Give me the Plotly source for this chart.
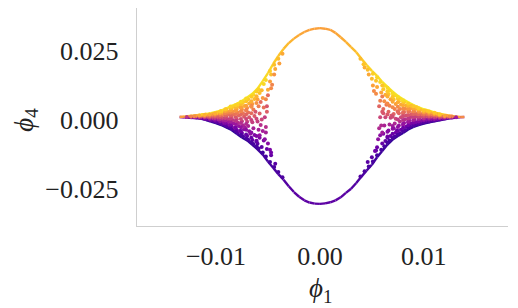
import plotly.graph_objects as go
from plotly.colors import sample_colorscale

# ---------------- data ----------------
X_TICKS = [-0.01, 0.0, 0.01]
X_TICK_TEXT = ["\u22120.01", "0.00", "0.01"]
Y_TICKS = [-0.025, 0.0, 0.025]
Y_TICK_TEXT = ["\u22120.025", "0.000", "0.025"]

# upper outer edge of the point cloud (phi_1, phi_4, colour value)
UPPER_X = [-0.0135, -0.0130, -0.0125, -0.0120, -0.0115, -0.0110, -0.0105, -0.0100,
           -0.0095, -0.0090, -0.0085, -0.0080, -0.0075, -0.0070, -0.0065, -0.0060,
           -0.0055, -0.0050, -0.0045, -0.0040, -0.0035, -0.0030, -0.0025, -0.0020,
           -0.0015, -0.0010, -0.0005, 0.0000, 0.0005, 0.0010, 0.0015, 0.0020,
           0.0025, 0.0030, 0.0035, 0.0040, 0.0045, 0.0050, 0.0055, 0.0060,
           0.0065, 0.0070, 0.0075, 0.0080, 0.0085, 0.0090, 0.0095, 0.0100,
           0.0105, 0.0110, 0.0115, 0.0120, 0.0125, 0.0130, 0.0135, 0.0139]
UPPER_Y = [0.0011, 0.0013, 0.0015, 0.0017, 0.0019, 0.0021, 0.0025, 0.0029,
           0.0034, 0.0042, 0.0051, 0.0059, 0.0069, 0.0082, 0.0095, 0.0114,
           0.0141, 0.0170, 0.0203, 0.0232, 0.0258, 0.0279, 0.0295, 0.0308,
           0.0319, 0.0327, 0.0331, 0.0333, 0.0331, 0.0327, 0.0316, 0.0300,
           0.0283, 0.0264, 0.0246, 0.0222, 0.0199, 0.0178, 0.0160, 0.0138,
           0.0120, 0.0103, 0.0087, 0.0075, 0.0064, 0.0054, 0.0046, 0.0039,
           0.0034, 0.0028, 0.0023, 0.0019, 0.0016, 0.0013, 0.0011, 0.0011]
UPPER_C = [0.70, 0.85, 0.90, 0.93, 0.95, 0.96, 0.97, 0.97,
           0.97, 0.97, 0.97, 0.97, 0.96, 0.96, 0.95, 0.94,
           0.93, 0.92, 0.90, 0.88, 0.86, 0.84, 0.82, 0.80,
           0.79, 0.78, 0.78, 0.78, 0.78, 0.78, 0.79, 0.80,
           0.82, 0.84, 0.86, 0.88, 0.90, 0.92, 0.93, 0.94,
           0.95, 0.96, 0.96, 0.97, 0.97, 0.97, 0.97, 0.97,
           0.96, 0.95, 0.93, 0.90, 0.87, 0.82, 0.75, 0.70]

# lower outer edge of the point cloud
LOWER_X = UPPER_X
LOWER_Y = [0.0011, 0.0009, 0.0008, 0.0007, 0.0005, 0.0001, -0.0006, -0.0011,
           -0.0018, -0.0027, -0.0036, -0.0050, -0.0063, -0.0074, -0.0090, -0.0106,
           -0.0125, -0.0150, -0.0173, -0.0196, -0.0216, -0.0240, -0.0261, -0.0278,
           -0.0291, -0.0299, -0.0303, -0.0304, -0.0302, -0.0298, -0.0291, -0.0280,
           -0.0264, -0.0249, -0.0228, -0.0205, -0.0183, -0.0162, -0.0135, -0.0112,
           -0.0089, -0.0071, -0.0058, -0.0047, -0.0034, -0.0025, -0.0018, -0.0013,
           -0.0008, -0.0005, -0.0001, 0.0003, 0.0006, 0.0008, 0.0010, 0.0011]
LOWER_C = [0.30, 0.20, 0.12, 0.08, 0.06, 0.05, 0.05, 0.05,
           0.05, 0.05, 0.05, 0.06, 0.06, 0.07, 0.08, 0.09,
           0.10, 0.11, 0.12, 0.13, 0.14, 0.15, 0.16, 0.17,
           0.17, 0.17, 0.17, 0.17, 0.17, 0.17, 0.17, 0.17,
           0.16, 0.15, 0.14, 0.13, 0.12, 0.11, 0.10, 0.09,
           0.08, 0.07, 0.06, 0.06, 0.05, 0.05, 0.05, 0.05,
           0.05, 0.05, 0.06, 0.08, 0.12, 0.20, 0.30, 0.45]

# interior points of the left wing
LEFT_X = [-0.0128,
          -0.0124, -0.0124,
          -0.0119, -0.0120, -0.0119,
          -0.0114, -0.0115, -0.0114, -0.0113,
          -0.0109, -0.0110, -0.0108, -0.0109, -0.0110,
          -0.0104, -0.0105, -0.0103, -0.0104, -0.0105, -0.0103,
          -0.0099, -0.0100, -0.0098, -0.0099, -0.0100, -0.0098, -0.0099,
          -0.0094, -0.0095, -0.0093, -0.0094, -0.0095, -0.0093, -0.0094, -0.0095,
          -0.0089, -0.0090, -0.0088, -0.0089, -0.0090, -0.0088, -0.0089, -0.0090,
          -0.0084, -0.0085, -0.0083, -0.0084, -0.0085, -0.0083, -0.0084, -0.0085, -0.0083,
          -0.0079, -0.0080, -0.0078, -0.0079, -0.0080, -0.0078, -0.0079, -0.0080, -0.0078, -0.0079,
          -0.0074, -0.0075, -0.0073, -0.0074, -0.0075, -0.0073, -0.0074, -0.0075, -0.0073, -0.0074,
          -0.0069, -0.0070, -0.0068, -0.0069, -0.0070, -0.0068, -0.0069, -0.0070, -0.0068, -0.0069,
          -0.0064, -0.0065, -0.0063, -0.0064, -0.0065, -0.0063, -0.0064, -0.0065, -0.0063, -0.0064,
          -0.0059, -0.0060, -0.0058, -0.0059, -0.0060, -0.0058, -0.0059, -0.0060, -0.0058, -0.0059,
          -0.0055, -0.0056, -0.0054, -0.0055, -0.0056, -0.0054, -0.0055, -0.0056, -0.0054,
          -0.0052, -0.0051, -0.0053, -0.0052, -0.0051, -0.0052, -0.0050, -0.0052,
          -0.0048, -0.0047, -0.0048, -0.0047, -0.0048, -0.0047, -0.0048,
          -0.0044, -0.0043, -0.0044, -0.0043, -0.0044,
          -0.0040, -0.0039, -0.0040,
          -0.0036, -0.0036,
          -0.0050, -0.0051, -0.0053, -0.0052, -0.0050, -0.0047, -0.0046, -0.0057, -0.0057,
          -0.0058, -0.0062, -0.0061, -0.0066, -0.0067, -0.0071, -0.0072, -0.0076, -0.0077,
          -0.0081, -0.0082, -0.0086, -0.0087, -0.0091, -0.0092, -0.0097, -0.0102]
LEFT_Y = [0.0011,
          0.0010, 0.0013,
          0.0009, 0.0012, 0.0015,
          0.0007, 0.0011, 0.0015, 0.0018,
          0.0003, 0.0008, 0.0012, 0.0016, 0.0020,
          -0.0003, 0.0002, 0.0007, 0.0012, 0.0017, 0.0022,
          -0.0008, -0.0002, 0.0004, 0.0010, 0.0016, 0.0021, 0.0026,
          -0.0015, -0.0008, 0.0000, 0.0008, 0.0015, 0.0022, 0.0029, 0.0033,
          -0.0024, -0.0015, -0.0006, 0.0004, 0.0013, 0.0021, 0.0030, 0.0038,
          -0.0033, -0.0022, -0.0012, 0.0000, 0.0011, 0.0020, 0.0031, 0.0040, 0.0048,
          -0.0047, -0.0036, -0.0022, -0.0010, 0.0003, 0.0016, 0.0027, 0.0040, 0.0050, 0.0057,
          -0.0059, -0.0047, -0.0033, -0.0019, -0.0004, 0.0012, 0.0025, 0.0038, 0.0051, 0.0064,
          -0.0071, -0.0058, -0.0041, -0.0022, -0.0006, 0.0010, 0.0027, 0.0044, 0.0060, 0.0075,
          -0.0087, -0.0072, -0.0054, -0.0030, -0.0008, 0.0015, 0.0038, 0.0058, 0.0076, 0.0092,
          -0.0103, -0.0086, -0.0064, -0.0035, -0.0005, 0.0024, 0.0050, 0.0075, 0.0098, 0.0112,
          -0.0118, -0.0098, -0.0074, -0.0040, 0.0002, 0.0045, 0.0080, 0.0108, 0.0131,
          -0.0132, -0.0105, -0.0070, -0.0025, 0.0030, 0.0075, 0.0110, 0.0145,
          -0.0152, -0.0128, -0.0108, 0.0115, 0.0140, 0.0165, 0.0178,
          -0.0170, -0.0158, 0.0165, 0.0185, 0.0200,
          -0.0188, 0.0205, 0.0222,
          -0.0207, 0.0240,
          0.0090, 0.0050, 0.0010, -0.0045, -0.0085, -0.0118, 0.0128, 0.0065, -0.0018,
          -0.0055, 0.0030, -0.0075, 0.0050, -0.0050, 0.0035, -0.0028, 0.0045, -0.0040,
          0.0034, -0.0028, 0.0044, -0.0018, 0.0025, -0.0011, 0.0013, 0.0018]
LEFT_C = [0.43,
          0.33, 0.70,
          0.25, 0.50, 0.78,
          0.25, 0.49, 0.72, 0.90,
          0.20, 0.40, 0.55, 0.72, 0.87,
          0.18, 0.30, 0.44, 0.57, 0.70, 0.84,
          0.16, 0.28, 0.41, 0.53, 0.66, 0.76, 0.87,
          0.16, 0.27, 0.39, 0.52, 0.63, 0.74, 0.85, 0.92,
          0.14, 0.23, 0.34, 0.46, 0.56, 0.65, 0.76, 0.86,
          0.14, 0.24, 0.34, 0.45, 0.56, 0.64, 0.74, 0.83, 0.90,
          0.13, 0.21, 0.32, 0.41, 0.51, 0.61, 0.69, 0.79, 0.86, 0.91,
          0.12, 0.20, 0.29, 0.38, 0.47, 0.57, 0.65, 0.74, 0.82, 0.90,
          0.12, 0.19, 0.28, 0.38, 0.47, 0.55, 0.64, 0.73, 0.82, 0.89,
          0.11, 0.18, 0.26, 0.37, 0.47, 0.57, 0.68, 0.77, 0.85, 0.92,
          0.11, 0.17, 0.25, 0.36, 0.47, 0.58, 0.68, 0.78, 0.86, 0.91,
          0.10, 0.17, 0.25, 0.36, 0.50, 0.64, 0.76, 0.85, 0.92,
          0.11, 0.19, 0.29, 0.42, 0.58, 0.71, 0.81, 0.92,
          0.11, 0.19, 0.25, 0.72, 0.78, 0.86, 0.90,
          0.12, 0.16, 0.74, 0.80, 0.86,
          0.12, 0.78, 0.85,
          0.13, 0.80,
          0.62, 0.55, 0.47, 0.36, 0.28, 0.22, 0.70, 0.62, 0.42,
          0.31, 0.55, 0.24, 0.66, 0.30, 0.66, 0.35, 0.78, 0.24,
          0.76, 0.28, 0.86, 0.28, 0.70, 0.31, 0.58, 0.74]

# extra interior points of the left wing (in between the columns above)
LEFT2_X = [-0.0121, -0.0121,
           -0.0116, -0.0116, -0.0116,
           -0.0111, -0.0111, -0.0111, -0.0111,
           -0.0106, -0.0106, -0.0106, -0.0106, -0.0106,
           -0.0101, -0.0101, -0.0101, -0.0101, -0.0101, -0.0101,
           -0.0096, -0.0096, -0.0096, -0.0096, -0.0096, -0.0096, -0.0096,
           -0.0091, -0.0091, -0.0091, -0.0091, -0.0091, -0.0091, -0.0091, -0.0091,
           -0.0086, -0.0086, -0.0086, -0.0086, -0.0086, -0.0086, -0.0086, -0.0086, -0.0086,
           -0.0081, -0.0081, -0.0081, -0.0081, -0.0081, -0.0081, -0.0081, -0.0081, -0.0081,
           -0.0076, -0.0076, -0.0076, -0.0076, -0.0076, -0.0076, -0.0076, -0.0076, -0.0076, -0.0076,
           -0.0071, -0.0071, -0.0071, -0.0071, -0.0071, -0.0071, -0.0071, -0.0071, -0.0071, -0.0071,
           -0.0066, -0.0066, -0.0066, -0.0066, -0.0066, -0.0066, -0.0066, -0.0066,
           -0.0061, -0.0061, -0.0061, -0.0061, -0.0061, -0.0061, -0.0061]
LEFT2_Y = [0.0010, 0.0014,
           0.0008, 0.0012, 0.0016,
           0.0005, 0.0010, 0.0014, 0.0018,
           0.0000, 0.0005, 0.0010, 0.0015, 0.0020,
           -0.0005, 0.0001, 0.0007, 0.0013, 0.0019, 0.0024,
           -0.0012, -0.0004, 0.0004, 0.0011, 0.0018, 0.0025, 0.0031,
           -0.0020, -0.0011, -0.0002, 0.0007, 0.0016, 0.0025, 0.0033, 0.0039,
           -0.0028, -0.0017, -0.0006, 0.0005, 0.0016, 0.0026, 0.0035, 0.0044, 0.0049,
           -0.0041, -0.0028, -0.0015, -0.0003, 0.0010, 0.0022, 0.0034, 0.0045, 0.0054,
           -0.0053, -0.0040, -0.0026, -0.0011, 0.0004, 0.0019, 0.0032, 0.0045, 0.0057, 0.0066,
           -0.0066, -0.0052, -0.0035, -0.0014, 0.0004, 0.0020, 0.0036, 0.0052, 0.0068, 0.0078,
           -0.0080, -0.0064, -0.0045, 0.0000, 0.0025, 0.0048, 0.0068, 0.0084,
           -0.0095, -0.0078, -0.0058, 0.0005, 0.0062, 0.0086, 0.0103]
LEFT2_C = [0.35, 0.72,
           0.30, 0.55, 0.80,
           0.25, 0.45, 0.63, 0.82,
           0.20, 0.36, 0.50, 0.64, 0.80,
           0.18, 0.31, 0.45, 0.58, 0.71, 0.82,
           0.17, 0.30, 0.43, 0.55, 0.67, 0.79, 0.88,
           0.16, 0.26, 0.37, 0.49, 0.60, 0.70, 0.80, 0.88,
           0.15, 0.25, 0.36, 0.48, 0.59, 0.69, 0.78, 0.86, 0.91,
           0.14, 0.23, 0.33, 0.44, 0.55, 0.65, 0.75, 0.83, 0.90,
           0.13, 0.21, 0.31, 0.41, 0.51, 0.61, 0.70, 0.78, 0.86, 0.92,
           0.12, 0.19, 0.29, 0.40, 0.50, 0.60, 0.69, 0.78, 0.87, 0.92,
           0.12, 0.19, 0.28, 0.48, 0.62, 0.73, 0.82, 0.89,
           0.11, 0.18, 0.26, 0.50, 0.74, 0.83, 0.90]

# interior points of the right wing
RIGHT_X = [0.0131,
           0.0127, 0.0127,
           0.0122, 0.0123, 0.0122,
           0.0117, 0.0118, 0.0117, 0.0116,
           0.0112, 0.0113, 0.0111, 0.0112, 0.0113, 0.0111,
           0.0107, 0.0108, 0.0106, 0.0107, 0.0108, 0.0106,
           0.0102, 0.0103, 0.0101, 0.0102, 0.0103, 0.0101, 0.0102,
           0.0097, 0.0098, 0.0096, 0.0097, 0.0098, 0.0096, 0.0097,
           0.0092, 0.0093, 0.0091, 0.0092, 0.0093, 0.0091, 0.0092, 0.0093,
           0.0087, 0.0088, 0.0086, 0.0087, 0.0088, 0.0086, 0.0087, 0.0088,
           0.0082, 0.0083, 0.0081, 0.0082, 0.0083, 0.0081, 0.0082, 0.0083, 0.0081,
           0.0077, 0.0078, 0.0076, 0.0077, 0.0078, 0.0076, 0.0077, 0.0078, 0.0076, 0.0077,
           0.0072, 0.0073, 0.0071, 0.0072, 0.0073, 0.0071, 0.0072, 0.0073, 0.0071, 0.0072,
           0.0067, 0.0068, 0.0066, 0.0067, 0.0068, 0.0066, 0.0067, 0.0068, 0.0066, 0.0067,
           0.0062, 0.0063, 0.0061, 0.0062, 0.0063, 0.0061, 0.0062, 0.0063, 0.0061, 0.0062,
           0.0059, 0.0060, 0.0058, 0.0059, 0.0060, 0.0058, 0.0059, 0.0060, 0.0058,
           0.0055, 0.0054, 0.0055, 0.0054, 0.0055, 0.0054, 0.0055,
           0.0051, 0.0050, 0.0051, 0.0050, 0.0051,
           0.0047, 0.0046, 0.0047, 0.0046,
           0.0043, 0.0043, 0.0042,
           0.0039, 0.0039,
           0.0057, 0.0058, 0.0057, 0.0056, 0.0053, 0.0052, 0.0060, 0.0061, 0.0060,
           0.0065, 0.0064, 0.0070, 0.0069, 0.0075, 0.0074, 0.0080, 0.0080, 0.0085,
           0.0085, 0.0090, 0.0090, 0.0095, 0.0100, 0.0105]
RIGHT_Y = [0.0010,
           0.0009, 0.0013,
           0.0007, 0.0011, 0.0015,
           0.0004, 0.0009, 0.0013, 0.0018,
           0.0000, 0.0005, 0.0010, 0.0015, 0.0020, 0.0024,
           -0.0003, 0.0003, 0.0009, 0.0015, 0.0021, 0.0027,
           -0.0006, 0.0001, 0.0008, 0.0015, 0.0022, 0.0029, 0.0034,
           -0.0011, -0.0003, 0.0005, 0.0013, 0.0021, 0.0029, 0.0037,
           -0.0017, -0.0008, 0.0002, 0.0012, 0.0022, 0.0031, 0.0040, 0.0046,
           -0.0024, -0.0013, -0.0002, 0.0010, 0.0021, 0.0032, 0.0042, 0.0052,
           -0.0036, -0.0024, -0.0011, 0.0003, 0.0016, 0.0029, 0.0041, 0.0053, 0.0064,
           -0.0048, -0.0035, -0.0020, -0.0005, 0.0010, 0.0025, 0.0040, 0.0055, 0.0068, 0.0077,
           -0.0060, -0.0046, -0.0030, -0.0013, 0.0005, 0.0022, 0.0040, 0.0058, 0.0074, 0.0089,
           -0.0074, -0.0058, -0.0038, -0.0016, 0.0008, 0.0030, 0.0052, 0.0075, 0.0093, 0.0106,
           -0.0095, -0.0076, -0.0050, -0.0020, 0.0010, 0.0040, 0.0068, 0.0092, 0.0112, 0.0124,
           -0.0108, -0.0085, -0.0055, -0.0020, 0.0030, 0.0070, 0.0100, 0.0125, 0.0138,
           -0.0128, -0.0110, -0.0099, 0.0095, 0.0120, 0.0142, 0.0155,
           -0.0150, -0.0135, 0.0125, 0.0150, 0.0168,
           -0.0168, -0.0152, 0.0165, 0.0182,
           -0.0186, 0.0190, 0.0202,
           -0.0205, 0.0222,
           0.0050, 0.0010, -0.0030, -0.0070, -0.0112, 0.0105, -0.0045, 0.0025, 0.0085,
           -0.0060, 0.0055, -0.0022, 0.0016, 0.0032, -0.0038, 0.0022, -0.0018, 0.0037,
           -0.0008, 0.0027, -0.0002, 0.0017, 0.0025, 0.0012]
RIGHT_C = [0.35,
           0.30, 0.70,
           0.25, 0.50, 0.78,
           0.20, 0.42, 0.60, 0.84,
           0.16, 0.32, 0.47, 0.62, 0.76, 0.88,
           0.16, 0.30, 0.43, 0.56, 0.70, 0.83,
           0.16, 0.28, 0.41, 0.53, 0.66, 0.78, 0.88,
           0.15, 0.27, 0.39, 0.51, 0.63, 0.74, 0.86,
           0.14, 0.25, 0.37, 0.49, 0.60, 0.71, 0.81, 0.88,
           0.14, 0.24, 0.35, 0.47, 0.57, 0.67, 0.77, 0.86,
           0.13, 0.22, 0.32, 0.43, 0.53, 0.63, 0.72, 0.81, 0.90,
           0.12, 0.21, 0.31, 0.41, 0.51, 0.60, 0.70, 0.80, 0.87, 0.93,
           0.12, 0.20, 0.29, 0.39, 0.50, 0.59, 0.69, 0.78, 0.86, 0.93,
           0.11, 0.19, 0.28, 0.38, 0.49, 0.60, 0.70, 0.80, 0.87, 0.92,
           0.11, 0.18, 0.27, 0.38, 0.50, 0.62, 0.73, 0.82, 0.88, 0.93,
           0.11, 0.19, 0.29, 0.40, 0.56, 0.69, 0.79, 0.87, 0.92,
           0.11, 0.17, 0.21, 0.72, 0.80, 0.87, 0.92,
           0.12, 0.16, 0.78, 0.85, 0.90,
           0.12, 0.16, 0.80, 0.86,
           0.13, 0.82, 0.87,
           0.14, 0.85,
           0.60, 0.50, 0.40, 0.30, 0.22, 0.72, 0.35, 0.55, 0.68,
           0.25, 0.66, 0.34, 0.55, 0.66, 0.25, 0.58, 0.36, 0.72,
           0.30, 0.66, 0.37, 0.57, 0.72, 0.50]

# extra interior points of the right wing (in between the columns above)
RIGHT2_X = [0.0125, 0.0125,
            0.0120, 0.0120, 0.0120,
            0.0115, 0.0115, 0.0115, 0.0115, 0.0115,
            0.0110, 0.0110, 0.0110, 0.0110, 0.0110, 0.0110,
            0.0105, 0.0105, 0.0105, 0.0105, 0.0105, 0.0105, 0.0105,
            0.0100, 0.0100, 0.0100, 0.0100, 0.0100, 0.0100, 0.0100,
            0.0095, 0.0095, 0.0095, 0.0095, 0.0095, 0.0095, 0.0095, 0.0095,
            0.0090, 0.0090, 0.0090, 0.0090, 0.0090, 0.0090, 0.0090, 0.0090,
            0.0085, 0.0085, 0.0085, 0.0085, 0.0085, 0.0085, 0.0085, 0.0085, 0.0085,
            0.0080, 0.0080, 0.0080, 0.0080, 0.0080, 0.0080, 0.0080, 0.0080, 0.0080, 0.0080,
            0.0075, 0.0075, 0.0075, 0.0075, 0.0075, 0.0075, 0.0075, 0.0075, 0.0075,
            0.0070, 0.0070, 0.0070, 0.0070, 0.0070, 0.0070, 0.0070, 0.0070,
            0.0065, 0.0065, 0.0065, 0.0065, 0.0065, 0.0065, 0.0065, 0.0065]
RIGHT2_Y = [0.0009, 0.0013,
            0.0006, 0.0010, 0.0015,
            0.0002, 0.0007, 0.0012, 0.0017, 0.0021,
            -0.0002, 0.0004, 0.0010, 0.0016, 0.0022, 0.0026,
            -0.0005, 0.0002, 0.0008, 0.0014, 0.0020, 0.0026, 0.0031,
            -0.0009, -0.0001, 0.0006, 0.0013, 0.0020, 0.0027, 0.0034,
            -0.0014, -0.0005, 0.0004, 0.0012, 0.0021, 0.0030, 0.0038, 0.0043,
            -0.0020, -0.0010, 0.0000, 0.0011, 0.0022, 0.0032, 0.0042, 0.0050,
            -0.0029, -0.0018, -0.0006, 0.0006, 0.0018, 0.0030, 0.0041, 0.0052, 0.0060,
            -0.0041, -0.0028, -0.0014, 0.0000, 0.0014, 0.0028, 0.0041, 0.0054, 0.0066, 0.0072,
            -0.0053, -0.0040, -0.0025, 0.0002, 0.0030, 0.0048, 0.0064, 0.0078, 0.0084,
            -0.0065, -0.0050, -0.0032, 0.0012, 0.0046, 0.0066, 0.0084, 0.0097,
            -0.0082, -0.0064, -0.0042, 0.0020, 0.0060, 0.0085, 0.0104, 0.0117]
RIGHT2_C = [0.35, 0.72,
            0.28, 0.50, 0.78,
            0.20, 0.38, 0.56, 0.76, 0.88,
            0.17, 0.32, 0.47, 0.62, 0.78, 0.88,
            0.16, 0.29, 0.42, 0.55, 0.68, 0.79, 0.88,
            0.15, 0.28, 0.40, 0.52, 0.64, 0.76, 0.87,
            0.15, 0.26, 0.38, 0.50, 0.62, 0.73, 0.83, 0.90,
            0.14, 0.24, 0.36, 0.48, 0.60, 0.70, 0.80, 0.88,
            0.14, 0.23, 0.34, 0.45, 0.55, 0.65, 0.75, 0.84, 0.90,
            0.13, 0.21, 0.31, 0.42, 0.52, 0.62, 0.72, 0.81, 0.88, 0.93,
            0.12, 0.20, 0.30, 0.46, 0.62, 0.72, 0.81, 0.88, 0.93,
            0.12, 0.20, 0.29, 0.52, 0.71, 0.80, 0.88, 0.93,
            0.11, 0.19, 0.28, 0.56, 0.72, 0.82, 0.89, 0.93]

# ---------------- figure ----------------
FONT = "Liberation Serif, DejaVu Serif, serif"
fig = go.Figure()


def add_edge(xs, ys, cs):
    for i in range(len(xs) - 1):
        col = sample_colorscale("Plasma", [(cs[i] + cs[i + 1]) / 2])[0]
        fig.add_trace(go.Scatter(x=[xs[i], xs[i + 1]], y=[ys[i], ys[i + 1]],
                                 mode="lines", line=dict(color=col, width=2.4),
                                 hoverinfo="skip", showlegend=False))


add_edge(LOWER_X, LOWER_Y, LOWER_C)
add_edge(UPPER_X, UPPER_Y, UPPER_C)

for xs, ys, cs in [(LEFT_X, LEFT_Y, LEFT_C), (LEFT2_X, LEFT2_Y, LEFT2_C),
                   (RIGHT_X, RIGHT_Y, RIGHT_C), (RIGHT2_X, RIGHT2_Y, RIGHT2_C)]:
    fig.add_trace(go.Scatter(x=xs, y=ys, mode="markers",
                             marker=dict(size=4.0, color=cs, colorscale="Plasma",
                                         cmin=0, cmax=1, line=dict(width=0)),
                             hoverinfo="skip", showlegend=False))

axis_common = dict(showgrid=False, zeroline=False, showline=True,
                   linecolor="#cfcfcf", linewidth=1.3, ticks="outside",
                   tickcolor="rgba(0,0,0,0)",
                   tickfont=dict(family=FONT, size=26, color="#222222"))

fig.update_layout(
    width=518, height=308,
    margin=dict(l=137, r=10, t=8, b=82),
    paper_bgcolor="white", plot_bgcolor="white",
    showlegend=False,
    xaxis=dict(range=[-0.0176, 0.0181], tickvals=X_TICKS, ticktext=X_TICK_TEXT,
               ticklen=6, **axis_common),
    yaxis=dict(range=[-0.0384, 0.0406], tickvals=Y_TICKS, ticktext=Y_TICK_TEXT,
               ticklen=12, **axis_common),
    annotations=[
        dict(text="<i>\u03d5</i><sub>1</sub>", xref="paper", yref="paper",
             x=0.4933, y=-0.208, xanchor="center", yanchor="top", showarrow=False,
             font=dict(family=FONT, size=27, color="#222222")),
        dict(text="<i>\u03d5</i><sub>4</sub>", xref="paper", yref="paper",
             x=-0.30, y=0.486, xanchor="center", yanchor="middle", showarrow=False,
             textangle=-90, font=dict(family=FONT, size=27, color="#222222")),
    ],
)

fig.write_html("out.html", config={"displayModeBar": False, "staticPlot": True},
               post_script="document.body.style.margin='0';"
               "document.body.style.overflow='hidden';")
